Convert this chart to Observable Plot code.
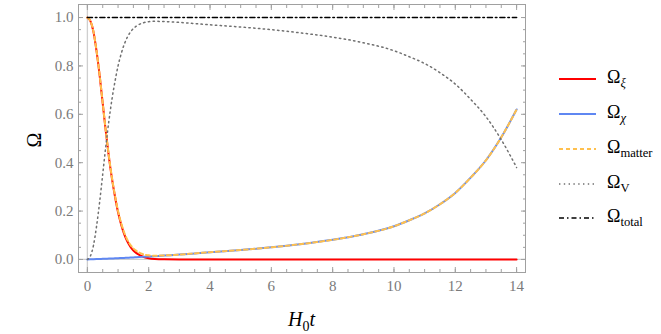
<!DOCTYPE html>
<html><head><meta charset="utf-8">
<script src="https://cdn.jsdelivr.net/npm/d3@7"></script>
<script src="https://cdn.jsdelivr.net/npm/@observablehq/plot@0.6"></script>
<style>
body{margin:0;background:#fff;}
#wrap{position:relative;width:661px;height:334px;font-family:"Liberation Serif","Times New Roman","DejaVu Serif",serif;overflow:hidden;}
.lab{position:absolute;color:#000;white-space:nowrap;line-height:1;}
.leg{position:absolute;left:559px;height:20px;display:flex;align-items:center;}
.leg svg{display:block;}
.leg span{margin-left:11px;font-size:18px;color:#000;}
sub{font-size:70%;vertical-align:-0.35em;}
</style></head><body><div id="wrap"></div>
<script>
const t = [0,0.1,0.2,0.3,0.4,0.5,0.6,0.7,0.8,0.9,1.0,1.1,1.2,1.3,1.4,1.5,1.6,1.8,2.0,2.2,2.5,3,3.5,4,5,6,7,8,9,10,10.5,11,11.5,12,12.5,13,13.5,14];
const omegaXi = [1.0,0.985,0.94,0.86,0.76,0.645,0.53,0.425,0.335,0.26,0.195,0.145,0.105,0.075,0.053,0.037,0.026,0.012,0.005,0.002,0.0005,0,0,0,0,0,0,0,0,0,0,0,0,0,0,0,0,0];
const omegaChi = [0,0.0005,0.001,0.0015,0.002,0.0025,0.003,0.0035,0.004,0.0045,0.005,0.0057,0.0064,0.0071,0.0078,0.0085,0.0092,0.0106,0.012,0.0135,0.016,0.02,0.025,0.03,0.039,0.05,0.064,0.081,0.104,0.137,0.162,0.19,0.228,0.275,0.338,0.41,0.505,0.62];
const omegaMatter = [1.0,0.9855,0.941,0.8615,0.762,0.6475,0.533,0.4285,0.339,0.2645,0.2,0.1507,0.1114,0.0821,0.0608,0.0455,0.0352,0.0226,0.017,0.0155,0.0165,0.02,0.025,0.03,0.039,0.05,0.064,0.081,0.104,0.137,0.162,0.19,0.228,0.275,0.338,0.41,0.505,0.62];
const omegaV = [0,0.0145,0.059,0.1385,0.238,0.3525,0.467,0.5715,0.661,0.7355,0.8,0.8493,0.8886,0.9179,0.9392,0.9545,0.9648,0.9774,0.983,0.9845,0.9835,0.98,0.975,0.97,0.961,0.95,0.936,0.919,0.896,0.863,0.838,0.81,0.772,0.725,0.662,0.59,0.495,0.38];
const tTotal = [0,14];
const omegaTotal = [1,1];
const xMajor = [0,2,4,6,8,10,12,14];
const xMinor = d3.range(0,14.01,0.5);
const yMajor = [0,0.2,0.4,0.6,0.8,1.0];
const yMinor = d3.range(0,1.001,0.05);
const xLabels = ["0","2","4","6","8","10","12","14"];
const yLabels = ["0.0","0.2","0.4","0.6","0.8","1.0"];

const rows = t.map((tt,i)=>({t:tt, xi:omegaXi[i], chi:omegaChi[i], matter:omegaMatter[i], v:omegaV[i]}));
const totalRows = tTotal.map((tt,i)=>({t:tt, total:omegaTotal[i]}));

const C = {xi:"#ff0000", chi:"#5f87f2", matter:"#ffc04d", v:"#707070", total:"#000000"};
const tickCol = "#a0a0a0";
const serif = '"Liberation Serif","Times New Roman","DejaVu Serif",serif';

const chart = Plot.plot({
  width:661, height:334,
  marginLeft:78, marginRight:136, marginTop:4, marginBottom:62,
  x:{domain:[-0.29,14.29]},
  y:{domain:[-0.054,1.054]},
  style:{fontFamily:serif, fontSize:"15px", color:"#7a7a7a", background:"#fff"},
  marks:[
    Plot.ruleX([0],{stroke:"#cfcfcf", strokeWidth:1.3}),
    Plot.ruleY([0],{stroke:"#cfcfcf", strokeWidth:1.3}),
    Plot.frame({stroke:tickCol}),
    Plot.axisX({anchor:"bottom", ticks:xMajor, tickSize:-5, text:null, label:null, stroke:tickCol}),
    Plot.axisX({anchor:"bottom", ticks:xMinor, tickSize:-3, text:null, label:null, stroke:tickCol}),
    Plot.axisX({anchor:"top", ticks:xMajor, tickSize:-5, text:null, label:null, stroke:tickCol}),
    Plot.axisX({anchor:"top", ticks:xMinor, tickSize:-3, text:null, label:null, stroke:tickCol}),
    Plot.axisY({anchor:"left", ticks:yMajor, tickSize:-5, text:null, label:null, stroke:tickCol}),
    Plot.axisY({anchor:"left", ticks:yMinor, tickSize:-3, text:null, label:null, stroke:tickCol}),
    Plot.axisY({anchor:"right", ticks:yMajor, tickSize:-5, text:null, label:null, stroke:tickCol}),
    Plot.axisY({anchor:"right", ticks:yMinor, tickSize:-3, text:null, label:null, stroke:tickCol}),
    Plot.axisX({anchor:"bottom", ticks:xMajor, tickSize:0, tickPadding:8, label:null, tickFormat:(d,i)=>xLabels[i], fontFamily:serif}),
    Plot.axisY({anchor:"left", ticks:yMajor, tickSize:0, tickPadding:5, label:null, tickFormat:(d,i)=>yLabels[i], fontFamily:serif}),
    Plot.line(rows,{x:"t", y:"xi", stroke:C.xi, strokeWidth:2, curve:"monotone-x"}),
    Plot.line(rows,{x:"t", y:"chi", stroke:C.chi, strokeWidth:2, curve:"monotone-x"}),
    Plot.line(rows,{x:"t", y:"matter", stroke:C.matter, strokeWidth:2, strokeDasharray:"4,3", curve:"monotone-x"}),
    Plot.line(rows,{x:"t", y:"v", stroke:C.v, strokeWidth:1.5, strokeDasharray:"1.4,3.4", curve:"monotone-x"}),
    Plot.line(totalRows,{x:"t", y:"total", stroke:C.total, strokeWidth:1.6, strokeDasharray:"5,3,1.5,3"})
  ]
});
const wrap = document.getElementById("wrap");
wrap.appendChild(chart);

function addLab(html, css){
  const d = document.createElement("div");
  d.className = "lab"; d.innerHTML = html; Object.assign(d.style, css);
  wrap.appendChild(d);
}
addLab("Ω", {left:"27px", top:"130px", fontSize:"20px", transform:"rotate(-90deg)", transformOrigin:"center"});
addLab("<i>H</i><sub>0</sub><i>t</i>", {left:"288px", top:"309px", fontSize:"20px"});

const legend = [
  {name:"ξ", italic:true, color:C.xi, w:2, dash:null, y:79},
  {name:"χ", italic:true, color:C.chi, w:2, dash:null, y:114},
  {name:"matter", italic:false, color:C.matter, w:2, dash:"4,3", y:149},
  {name:"V", italic:false, color:C.v, w:1.5, dash:"1.4,3.4", y:184},
  {name:"total", italic:false, color:C.total, w:1.6, dash:"5,3,1.5,3", y:218}
];
for (const e of legend){
  const d = document.createElement("div");
  d.className = "leg"; d.style.top = (e.y-10)+"px";
  d.innerHTML = `<svg width="37" height="6"><line x1="0" y1="3" x2="37" y2="3" stroke="${e.color}" stroke-width="${e.w}" ${e.dash?`stroke-dasharray="${e.dash}"`:""}/></svg><span>Ω<sub>${e.italic?`<i>${e.name}</i>`:e.name}</sub></span>`;
  wrap.appendChild(d);
}
</script></body></html>
